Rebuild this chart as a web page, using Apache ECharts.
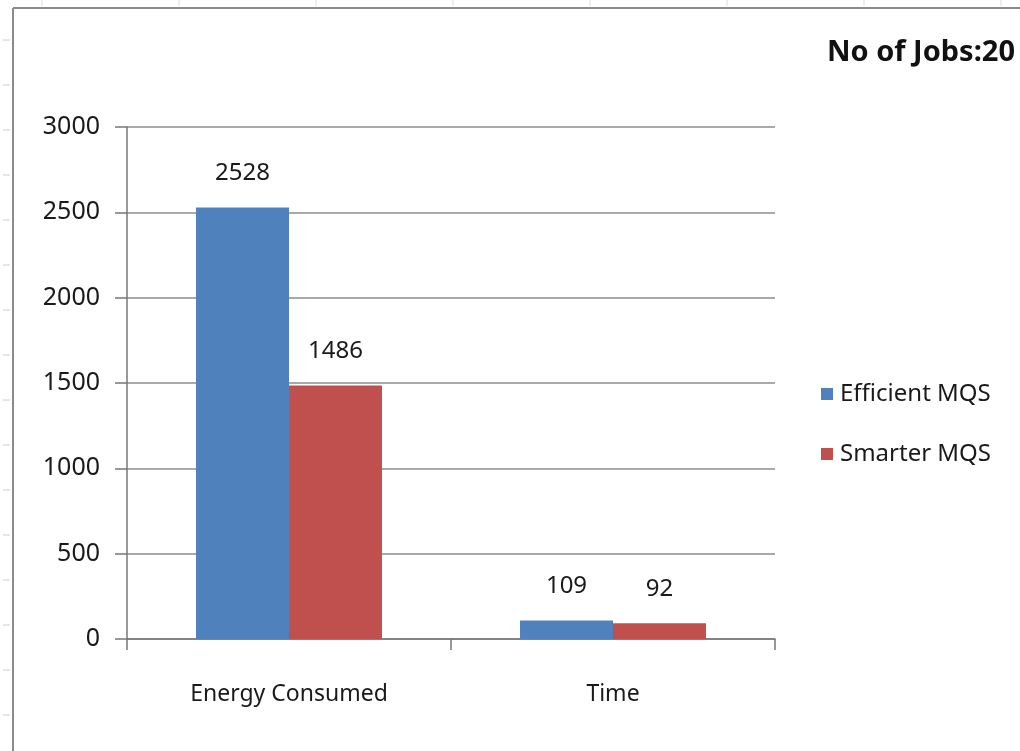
<!DOCTYPE html>
<html>
<head>
<meta charset="utf-8">
<script src="https://cdn.jsdelivr.net/npm/echarts@6/dist/echarts.min.js"></script>
<style>
  html, body { margin: 0; padding: 0; background: #fff; }
  #chart { width: 1020px; height: 751px; }
</style>
</head>
<body>
<div id="chart"></div>
<script>
// Chart data
const categories = ['Energy Consumed', 'Time'];
const efficientMQS = [2528, 109];
const smarterMQS = [1486, 92];
const seriesNames = ['Efficient MQS', 'Smarter MQS'];
const yTicks = { min: 0, max: 3000, interval: 500 };
const titleText = 'No of Jobs:20';

const FONT = '"Noto Sans", sans-serif';
const BLUE = '#4F81BD';
const RED = '#C0504D';
const GRID_GRAY = '#8c8c8c';

// Sheet frame: left and top border with small cell ticks
const frame = [
  { type: 'line', shape: { x1: 13, y1: 8, x2: 13, y2: 751 }, style: { stroke: '#8a8a8a', lineWidth: 2 } },
  { type: 'line', shape: { x1: 13, y1: 8, x2: 1020, y2: 8 }, style: { stroke: '#8a8a8a', lineWidth: 2 } }
];
for (let y = 40; y < 751; y += 45) {
  frame.push({ type: 'line', shape: { x1: 3, y1: y, x2: 10, y2: y }, style: { stroke: '#cccccc', lineWidth: 1 } });
}
for (let x = 42; x < 1020; x += 137) {
  frame.push({ type: 'line', shape: { x1: x, y1: 0, x2: x, y2: 6 }, style: { stroke: '#dddddd', lineWidth: 1 } });
}

const labelStyle = {
  show: true,
  position: 'top',
  distance: 22,
  fontFamily: FONT,
  fontSize: 24,
  color: '#1a1a1a'
};

const chart = echarts.init(document.getElementById('chart'), null, { renderer: 'canvas' });
chart.setOption({
  backgroundColor: '#ffffff',
  animation: false,
  title: {
    text: titleText,
    right: 0,
    top: 33,
    textStyle: { fontFamily: FONT, fontSize: 29, fontWeight: 'bold', color: '#111' }
  },
  legend: {
    data: seriesNames,
    orient: 'vertical',
    left: 816,
    top: 377,
    itemWidth: 12,
    itemHeight: 12,
    itemGap: 36,
    icon: 'rect',
    textStyle: { fontFamily: FONT, fontSize: 24, color: '#1a1a1a', padding: [0, 0, 0, 2] }
  },
  grid: { left: 127, right: 245, top: 127, bottom: 112, containLabel: false },
  xAxis: {
    type: 'category',
    data: categories,
    axisLine: { lineStyle: { color: '#777', width: 1.5 } },
    axisTick: { show: true, alignWithLabel: false, length: 11, lineStyle: { color: '#777', width: 1.5 } },
    axisLabel: { fontFamily: FONT, fontSize: 23, color: '#1a1a1a', margin: 44 },
    splitLine: { show: false }
  },
  yAxis: {
    type: 'value',
    min: yTicks.min,
    max: yTicks.max,
    interval: yTicks.interval,
    axisLine: { show: true, lineStyle: { color: '#777', width: 1.5 } },
    axisTick: { show: true, length: 12, lineStyle: { color: '#777', width: 1.5 } },
    axisLabel: { fontFamily: FONT, fontSize: 25, color: '#1a1a1a', margin: 27, formatter: v => String(v) },
    splitLine: { show: true, lineStyle: { color: GRID_GRAY, width: 1.5 } }
  },
  series: [
    {
      name: seriesNames[0],
      type: 'bar',
      data: efficientMQS,
      barGap: '0%',
      barCategoryGap: '42.6%',
      itemStyle: { color: BLUE },
      label: labelStyle
    },
    {
      name: seriesNames[1],
      type: 'bar',
      data: smarterMQS,
      barGap: '0%',
      barCategoryGap: '42.6%',
      itemStyle: { color: RED },
      label: labelStyle
    }
  ],
  graphic: frame
});
</script>
</body>
</html>
